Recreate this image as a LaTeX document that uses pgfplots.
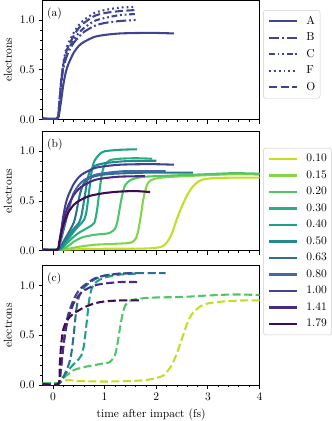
\documentclass[border=0pt]{standalone}
\usepackage{pgfplots}
\pgfplotsset{compat=1.18}

\definecolor{c010}{HTML}{C2DF23}
\definecolor{c015}{HTML}{86D549}
\definecolor{c020}{HTML}{52C569}
\definecolor{c030}{HTML}{2AB07F}
\definecolor{c040}{HTML}{1FA188}
\definecolor{c050}{HTML}{23898E}
\definecolor{c063}{HTML}{2C728E}
\definecolor{c080}{HTML}{4468A6}
\definecolor{c100}{HTML}{3E4490}
\definecolor{c141}{HTML}{4B2A82}
\definecolor{c179}{HTML}{3F0B52}

\pgfplotsset{
  panel/.style={
    scale only axis, width=188pt, height=103.5pt,
    xmin=-0.2, xmax=4, ymin=0, ymax=1.2,
    xtick={0,1,2,3,4}, minor x tick num=4,
    ytick={0,0.5,1}, minor y tick num=4,
    yticklabel style={/pgf/number format/.cd, fixed, fixed zerofill, precision=1},
    tick align=outside, xtick pos=bottom, ytick pos=left,
    major tick length=3.5pt, minor tick length=2pt,
    every tick/.style={black, line width=0.7pt},
    axis line style={line width=0.7pt},
    ylabel={electrons},
    every axis plot/.append style={line width=1.8pt, smooth, tension=0.45},
    legend cell align=left,
    legend image code/.code={\draw[#1] (0pt,0pt) -- (24pt,0pt);},
    legend style={anchor=north west, draw=black!20, rounded corners=2pt,
      fill=white, inner xsep=4pt, inner ysep=5pt,
      nodes={inner sep=0pt, text height=7pt, text depth=2pt},
      row sep=5.3pt,
      /tikz/every odd column/.append style={column sep=7.5pt}},
  },
  dsh/.style={dash pattern=on 7pt off 3pt},
}

\begin{document}
\begin{tikzpicture}
\path[use as bounding box] (0,0) rectangle (287.8pt,365pt);

% (a)
\begin{axis}[panel, at={(37pt,261.4pt)}, anchor=south west, xticklabels={},
  legend style={at={(1.017,0.916)}}]
\addplot[c100] coordinates {(-0.2,0.01) (0.08,0.01) (0.12,0.06) (0.16,0.2) (0.2,0.35) (0.25,0.48) (0.3,0.56) (0.4,0.67) (0.5,0.74) (0.6,0.78) (0.8,0.83) (1.0,0.85) (1.3,0.865) (1.7,0.87) (2.0,0.87) (2.34,0.865)};
\addlegendentry{A}
\addplot[c100, dash pattern=on 9pt off 2.4pt on 1.6pt off 2.4pt] coordinates {(-0.2,0.01) (0.08,0.01) (0.12,0.15) (0.16,0.37) (0.2,0.51) (0.25,0.61) (0.3,0.68) (0.4,0.77) (0.5,0.83) (0.6,0.88) (0.8,0.94) (1.0,0.97) (1.3,0.99) (1.6,1.0)};
\addlegendentry{B}
\addplot[c100, dash pattern=on 5pt off 2.4pt on 1.6pt off 2.4pt on 1.6pt off 2.4pt] coordinates {(-0.2,0.01) (0.08,0.01) (0.12,0.15) (0.16,0.38) (0.2,0.53) (0.25,0.64) (0.3,0.71) (0.4,0.80) (0.5,0.87) (0.6,0.92) (0.8,0.99) (1.0,1.02) (1.3,1.05) (1.6,1.06)};
\addlegendentry{C}
\addplot[c100, dash pattern=on 1.6pt off 2.6pt] coordinates {(-0.2,0.01) (0.08,0.01) (0.12,0.15) (0.16,0.4) (0.2,0.57) (0.25,0.70) (0.3,0.77) (0.4,0.87) (0.5,0.95) (0.6,1.0) (0.8,1.07) (1.0,1.1) (1.3,1.125) (1.6,1.13)};
\addlegendentry{F}
\addplot[c100, dsh] coordinates {(-0.2,0.01) (0.08,0.01) (0.12,0.15) (0.16,0.39) (0.2,0.55) (0.25,0.67) (0.3,0.74) (0.4,0.84) (0.5,0.92) (0.6,0.97) (0.8,1.04) (1.0,1.07) (1.3,1.09) (1.6,1.10)};
\addlegendentry{O}
\node[anchor=north west, inner sep=0pt] at (rel axis cs:0.02,0.94) {(a)};
\end{axis}

% (b)
\begin{axis}[panel, at={(37pt,147.6pt)}, anchor=south west, xticklabels={},
  legend style={at={(1.017,0.862)}}]
\addplot[c010] coordinates {(-0.2,0.01) (0.1,0.01) (0.5,0.015) (1.0,0.02) (1.5,0.02) (1.9,0.025) (2.1,0.04) (2.2,0.08) (2.3,0.17) (2.4,0.32) (2.5,0.45) (2.6,0.56) (2.7,0.64) (2.8,0.69) (2.9,0.715) (3.1,0.73) (3.5,0.735) (4.0,0.735)};
\addlegendentry{0.10}
\addplot[c015] coordinates {(-0.2,0.01) (0.1,0.01) (0.3,0.02) (0.5,0.04) (0.8,0.06) (1.2,0.07) (1.5,0.08) (1.6,0.12) (1.65,0.2) (1.7,0.35) (1.75,0.52) (1.8,0.63) (1.85,0.69) (1.95,0.72) (2.2,0.74) (3.0,0.76) (3.6,0.77) (4.0,0.765)};
\addlegendentry{0.15}
\addplot[c020] coordinates {(-0.2,0.01) (0.1,0.01) (0.2,0.02) (0.3,0.05) (0.4,0.09) (0.5,0.12) (0.6,0.14) (0.8,0.16) (1.0,0.17) (1.1,0.18) (1.2,0.22) (1.25,0.3) (1.3,0.45) (1.35,0.58) (1.4,0.66) (1.5,0.71) (1.7,0.74) (2.0,0.75) (3.0,0.77) (3.5,0.78) (4.0,0.775)};
\addlegendentry{0.20}
\addplot[c030] coordinates {(-0.2,0.01) (0.08,0.01) (0.15,0.02) (0.2,0.04) (0.3,0.09) (0.4,0.14) (0.5,0.18) (0.6,0.21) (0.7,0.24) (0.8,0.28) (0.85,0.4) (0.9,0.6) (0.95,0.78) (1.0,0.86) (1.1,0.91) (1.3,0.925) (1.6,0.93) (1.92,0.925)};
\addlegendentry{0.30}
\addplot[c040] coordinates {(-0.2,0.01) (0.08,0.01) (0.15,0.02) (0.2,0.05) (0.3,0.12) (0.4,0.19) (0.5,0.25) (0.6,0.31) (0.65,0.4) (0.7,0.6) (0.75,0.8) (0.8,0.9) (0.9,0.97) (1.0,1.0) (1.3,1.015) (1.63,1.02)};
\addlegendentry{0.40}
\addplot[c050] coordinates {(-0.2,0.01) (0.08,0.01) (0.15,0.03) (0.2,0.07) (0.3,0.15) (0.4,0.22) (0.5,0.28) (0.55,0.35) (0.6,0.5) (0.65,0.66) (0.7,0.78) (0.8,0.85) (1.0,0.88) (1.4,0.90) (2.0,0.905)};
\addlegendentry{0.50}
\addplot[c063] coordinates {(-0.2,0.01) (0.08,0.01) (0.15,0.04) (0.2,0.09) (0.3,0.18) (0.4,0.28) (0.45,0.38) (0.5,0.52) (0.55,0.62) (0.6,0.68) (0.7,0.73) (0.9,0.76) (1.2,0.775) (1.8,0.785) (2.71,0.785)};
\addlegendentry{0.63}
\addplot[c080] coordinates {(-0.2,0.01) (0.08,0.01) (0.12,0.05) (0.16,0.12) (0.2,0.2) (0.25,0.3) (0.3,0.4) (0.35,0.5) (0.4,0.58) (0.5,0.66) (0.6,0.71) (0.8,0.76) (1.0,0.78) (1.4,0.80) (2.18,0.80)};
\addlegendentry{0.80}
\addplot[c100] coordinates {(-0.2,0.01) (0.08,0.01) (0.12,0.06) (0.16,0.2) (0.2,0.35) (0.25,0.48) (0.3,0.56) (0.4,0.67) (0.5,0.74) (0.6,0.78) (0.8,0.83) (1.0,0.85) (1.3,0.865) (1.7,0.87) (2.0,0.87) (2.34,0.865)};
\addlegendentry{1.00}
\addplot[c141] coordinates {(-0.2,0.01) (0.08,0.01) (0.12,0.08) (0.16,0.2) (0.2,0.3) (0.25,0.39) (0.3,0.46) (0.4,0.56) (0.5,0.62) (0.6,0.66) (0.8,0.71) (1.0,0.73) (1.3,0.745) (1.78,0.75)};
\addlegendentry{1.41}
\addplot[c179] coordinates {(-0.2,0.01) (0.08,0.01) (0.12,0.08) (0.16,0.18) (0.2,0.26) (0.25,0.33) (0.3,0.39) (0.4,0.46) (0.5,0.5) (0.7,0.55) (1.0,0.58) (1.3,0.595) (1.6,0.60) (1.88,0.59)};
\addlegendentry{1.79}
\node[anchor=north west, inner sep=0pt] at (rel axis cs:0.02,0.94) {(b)};
\end{axis}

% (c)
\begin{axis}[panel, at={(37pt,31.2pt)}, anchor=south west,
  xlabel={time after impact (fs)}]
\addplot[c010, dsh] coordinates {(-0.2,0.02) (0.1,0.02) (0.2,0.04) (0.3,0.05) (0.5,0.04) (1.0,0.035) (1.5,0.04) (1.8,0.05) (2.0,0.07) (2.15,0.1) (2.3,0.2) (2.4,0.32) (2.5,0.47) (2.6,0.62) (2.7,0.72) (2.85,0.79) (3.0,0.82) (3.3,0.84) (3.7,0.85) (4.0,0.85)};
\addplot[c020, dsh] coordinates {(-0.2,0.02) (0.1,0.02) (0.2,0.07) (0.3,0.11) (0.4,0.15) (0.6,0.18) (0.8,0.20) (1.0,0.22) (1.1,0.23) (1.2,0.3) (1.25,0.42) (1.3,0.58) (1.35,0.72) (1.4,0.8) (1.5,0.85) (1.7,0.87) (2.0,0.88) (2.5,0.885) (3.0,0.9) (3.5,0.91) (4.0,0.905)};
\addplot[c040, dsh] coordinates {(-0.2,0.01) (0.1,0.01) (0.2,0.08) (0.3,0.15) (0.4,0.21) (0.5,0.26) (0.55,0.3) (0.6,0.4) (0.65,0.62) (0.7,0.85) (0.75,0.97) (0.85,1.04) (1.0,1.08) (1.3,1.11) (1.63,1.12)};
\addplot[c063, dsh] coordinates {(-0.2,0.01) (0.1,0.01) (0.2,0.08) (0.3,0.2) (0.35,0.3) (0.4,0.5) (0.45,0.75) (0.5,0.88) (0.6,0.98) (0.8,1.06) (1.0,1.1) (1.3,1.12) (1.7,1.125) (2.18,1.125)};
\addplot[c100, dsh] coordinates {(-0.2,0.01) (0.1,0.01) (0.15,0.15) (0.2,0.4) (0.25,0.6) (0.3,0.72) (0.4,0.86) (0.5,0.95) (0.6,1.0) (0.8,1.07) (1.0,1.1) (1.3,1.12) (1.6,1.125)};
\addplot[c141, dsh] coordinates {(-0.2,0.01) (0.1,0.01) (0.15,0.15) (0.2,0.38) (0.25,0.56) (0.3,0.68) (0.4,0.82) (0.5,0.9) (0.6,0.95) (0.8,1.0) (1.0,1.02) (1.3,1.035) (1.63,1.035)};
\addplot[c179, dsh] coordinates {(-0.2,0.01) (0.1,0.01) (0.13,0.2) (0.16,0.42) (0.2,0.56) (0.25,0.63) (0.3,0.67) (0.4,0.72) (0.5,0.75) (0.6,0.78) (0.8,0.82) (1.0,0.84) (1.3,0.85) (1.73,0.85)};
\node[anchor=north west, inner sep=0pt] at (rel axis cs:0.02,0.94) {(c)};
\end{axis}
\end{tikzpicture}
\end{document}
